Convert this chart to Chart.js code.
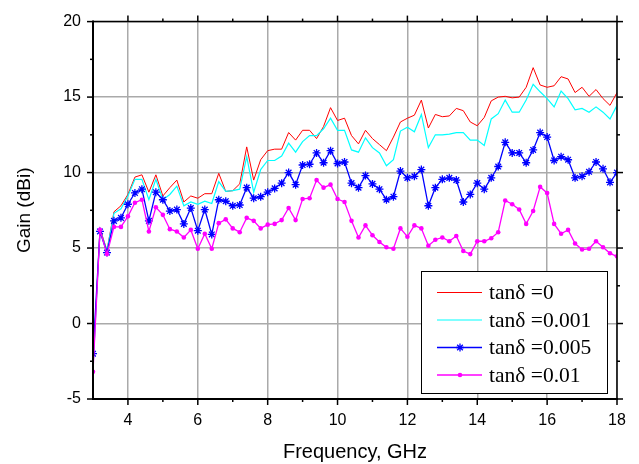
<!DOCTYPE html>
<html>
<head>
<meta charset="utf-8">
<script src="https://cdn.jsdelivr.net/npm/chart.js@4.4.0/dist/chart.umd.min.js"></script>
<style>
  html, body { margin: 0; padding: 0; background: #fff; }
  #wrap { width: 639px; height: 464px; }
</style>
</head>
<body>
<div id="wrap"><canvas id="gainChart" width="639" height="464"></canvas></div>
<script>
// Frequency samples (GHz)
const freqs = [3.0, 3.2, 3.4, 3.6, 3.8, 4.0, 4.2, 4.4, 4.6, 4.8,
    5.0, 5.2, 5.4, 5.6, 5.8, 6.0, 6.2, 6.4, 6.6, 6.8,
    7.0, 7.2, 7.4, 7.6, 7.8, 8.0, 8.2, 8.4, 8.6, 8.8,
    9.0, 9.2, 9.4, 9.6, 9.8, 10.0, 10.2, 10.4, 10.6, 10.8,
    11.0, 11.2, 11.4, 11.6, 11.8, 12.0, 12.2, 12.4, 12.6, 12.8,
    13.0, 13.2, 13.4, 13.6, 13.8, 14.0, 14.2, 14.4, 14.6, 14.8,
    15.0, 15.2, 15.4, 15.6, 15.8, 16.0, 16.2, 16.4, 16.6, 16.8,
    17.0, 17.2, 17.4, 17.6, 17.8, 18.0];

// Gain (dBi) for each loss tangent
const gainTan0 = [-3.0, 6.3, 4.85, 7.4, 7.8, 8.55, 9.7, 9.85, 8.7, 9.85,
    8.45, 9.0, 9.5, 8.05, 8.45, 8.3, 8.6, 8.6, 9.95, 8.75,
    8.8, 9.25, 11.7, 9.5, 10.85, 11.45, 11.55, 11.55, 12.65, 12.15,
    12.8, 12.8, 12.25, 13.05, 14.3, 13.45, 13.6, 12.45, 11.9, 12.8,
    12.25, 11.85, 11.45, 12.35, 13.35, 13.6, 13.8, 14.8, 12.95, 13.85,
    13.7, 13.75, 14.25, 14.1, 13.35, 13.1, 13.65, 14.75, 15.0, 15.05,
    14.95, 15.0, 15.65, 16.95, 15.8, 15.65, 15.75, 16.35, 16.2, 15.3,
    15.65, 15.05, 15.5, 14.9, 14.45, 15.3];

const gainTan001 = [-3.0, 6.2, 4.8, 7.3, 7.6, 8.45, 9.55, 9.55, 8.2, 9.55,
    8.2, 8.55, 9.1, 7.8, 8.05, 7.9, 8.1, 7.95, 9.4, 8.75,
    8.8, 8.9, 11.05, 8.7, 10.2, 10.8, 10.8, 11.1, 11.95, 11.35,
    12.05, 12.45, 12.45, 12.9, 13.6, 12.8, 12.8, 11.5, 11.35, 12.3,
    11.65, 11.3, 10.45, 10.85, 12.75, 13.0, 12.7, 13.85, 11.65, 12.5,
    12.5, 12.55, 12.65, 12.65, 12.15, 12.15, 11.8, 13.55, 13.9, 14.8,
    14.0, 14.0, 14.8, 15.85, 15.35, 14.9, 14.35, 15.4, 14.9, 14.15,
    14.25, 14.0, 14.35, 14.0, 13.55, 14.45];

const gainTan005 = [-2.0, 6.1, 4.7, 6.8, 7.0, 7.9, 8.65, 8.9, 6.8, 8.7,
    8.2, 7.45, 7.55, 6.6, 7.65, 6.15, 7.55, 5.9, 8.2, 8.1,
    7.8, 7.85, 9.0, 8.3, 8.4, 8.7, 8.95, 9.3, 10.0, 9.2,
    10.5, 10.55, 11.3, 10.65, 11.45, 10.6, 10.7, 9.3, 9.0, 9.8,
    9.25, 8.9, 8.2, 8.4, 10.1, 9.65, 9.75, 10.2, 7.8, 9.0,
    9.55, 9.65, 9.5, 8.05, 8.55, 9.3, 8.9, 9.65, 10.4, 12.0,
    11.3, 11.3, 10.65, 11.5, 12.65, 12.35, 10.8, 11.05, 10.85, 9.65,
    9.75, 10.05, 10.7, 10.25, 9.35, 10.0];

const gainTan01 = [-3.2, 6.2, 4.6, 6.4, 6.4, 7.1, 8.0, 8.2, 6.1, 7.7,
    7.2, 6.25, 6.1, 5.7, 6.2, 4.95, 5.95, 4.95, 6.65, 6.9,
    6.3, 6.05, 7.0, 6.8, 6.3, 6.55, 6.6, 6.85, 7.65, 6.85,
    8.25, 8.3, 9.5, 9.0, 9.2, 8.25, 8.05, 6.8, 5.7, 6.5,
    5.85, 5.4, 5.05, 4.95, 6.3, 5.75, 6.5, 6.3, 5.15, 5.55,
    5.7, 5.45, 5.8, 4.8, 4.6, 5.45, 5.45, 5.65, 6.05, 8.15,
    7.9, 7.55, 6.6, 7.45, 9.05, 8.65, 6.6, 5.95, 6.2, 5.3,
    4.9, 4.95, 5.45, 5.05, 4.65, 4.45];

const seriesLabels = ['tanδ =0', 'tanδ =0.001', 'tanδ =0.005', 'tanδ =0.01'];
const xTicks = [4, 6, 8, 10, 12, 14, 16, 18];
const yTicks = [-5, 0, 5, 10, 15, 20];
const xMinorTicks = [5, 7, 9, 11, 13, 15, 17];
const yMinorTicks = [-2.5, 2.5, 7.5, 12.5, 17.5];

const sansFont = 'Arial, "Liberation Sans", sans-serif';
const serifFont = '"Times New Roman", "Liberation Serif", serif';

const toPoints = arr => freqs.map((f, i) => ({ x: f, y: arr[i] }));

const datasets = [
    {
        label: seriesLabels[0],
        data: toPoints(gainTan0),
        borderColor: '#ff0000',
        borderWidth: 1,
        pointRadius: 0,
        order: 4
    },
    {
        label: seriesLabels[1],
        data: toPoints(gainTan001),
        borderColor: '#00ffff',
        borderWidth: 1.2,
        pointRadius: 0,
        order: 3
    },
    {
        label: seriesLabels[2],
        data: toPoints(gainTan005),
        borderColor: '#0000ff',
        borderWidth: 1.3,
        pointStyle: 'star',
        pointRadius: 4,
        pointBorderColor: '#0000ff',
        pointBorderWidth: 1.3,
        order: 2
    },
    {
        label: seriesLabels[3],
        data: toPoints(gainTan01),
        borderColor: '#ff00ff',
        borderWidth: 1.3,
        pointStyle: 'circle',
        pointRadius: 2.3,
        pointBackgroundColor: '#ff00ff',
        pointBorderColor: '#ff00ff',
        pointBorderWidth: 0,
        order: 1
    }
];

// Frame, outward tick marks and the boxed legend
const frameAndLegend = {
    id: 'frameAndLegend',
    afterDraw(chart) {
        const { ctx, chartArea: a, scales: { x, y } } = chart;
        ctx.save();
        ctx.strokeStyle = '#000';
        ctx.lineWidth = 1.5;

        const tick = (x1, y1, x2, y2) => {
            ctx.beginPath();
            ctx.moveTo(x1, y1);
            ctx.lineTo(x2, y2);
            ctx.stroke();
        };

        xTicks.forEach(v => {
            const px = x.getPixelForValue(v);
            tick(px, a.bottom, px, a.bottom + 6);
            tick(px, a.top, px, a.top - 6);
        });
        xMinorTicks.forEach(v => {
            const px = x.getPixelForValue(v);
            tick(px, a.bottom, px, a.bottom + 3);
            tick(px, a.top, px, a.top - 3);
        });
        yTicks.forEach(v => {
            const py = y.getPixelForValue(v);
            tick(a.left, py, a.left - 6, py);
            tick(a.right, py, a.right + 6, py);
        });
        yMinorTicks.forEach(v => {
            const py = y.getPixelForValue(v);
            tick(a.left, py, a.left - 3, py);
            tick(a.right, py, a.right + 3, py);
        });

        // box
        ctx.lineWidth = 2;
        tick(a.left, a.top - 1, a.left, a.bottom + 1);
        tick(a.left - 1, a.bottom, a.right + 1, a.bottom);
        ctx.lineWidth = 1.5;
        tick(a.left, a.top, a.right, a.top);
        tick(a.right, a.top, a.right, a.bottom);

        // legend
        const box = { left: 421, top: 271, right: 607, bottom: 393 };
        ctx.fillStyle = '#fff';
        ctx.fillRect(box.left, box.top, box.right - box.left, box.bottom - box.top);
        ctx.lineWidth = 1;
        ctx.strokeRect(box.left + 0.5, box.top + 0.5, box.right - box.left, box.bottom - box.top);

        const rowY = [292.5, 320, 347.5, 375];
        ctx.font = '21.5px ' + serifFont;
        ctx.textBaseline = 'middle';
        ctx.textAlign = 'left';
        chart.data.datasets.forEach((ds, i) => {
            const ry = rowY[i];
            ctx.strokeStyle = ds.borderColor;
            ctx.lineWidth = ds.borderWidth;
            tick(437, ry, 482, ry);
            if (ds.pointRadius > 0) {
                ctx.fillStyle = ds.pointBackgroundColor || ds.borderColor;
                ctx.strokeStyle = ds.pointBorderColor;
                Chart.helpers.drawPoint(ctx, {
                    pointStyle: ds.pointStyle,
                    radius: ds.pointRadius,
                    rotation: 0,
                    borderWidth: ds.pointBorderWidth
                }, 460, ry);
            }
            ctx.fillStyle = '#000';
            ctx.fillText(ds.label, 489, ry + 1);
        });
        ctx.restore();
    }
};

const ctx = document.getElementById('gainChart').getContext('2d');

const chart = new Chart(ctx, {
    type: 'line',
    data: { datasets: datasets },
    options: {
        responsive: false,
        animation: false,
        devicePixelRatio: 1,
        layout: {
            padding: { top: 16, right: 22, left: 0, bottom: 0 }
        },
        plugins: {
            legend: { display: false },
            tooltip: { enabled: false }
        },
        scales: {
            x: {
                type: 'linear',
                min: 3,
                max: 18,
                afterBuildTicks: scale => {
                    scale.ticks = xTicks.map(v => ({ value: v }));
                },
                afterFit: scale => {
                    scale.height = 65;
                },
                border: { display: false },
                grid: {
                    color: '#aaaaaa',
                    lineWidth: 1.5,
                    drawTicks: false
                },
                ticks: {
                    color: '#000',
                    padding: 12,
                    maxRotation: 0,
                    autoSkip: false,
                    font: { family: sansFont, size: 16 }
                },
                title: {
                    display: true,
                    text: 'Frequency, GHz',
                    color: '#000',
                    font: { family: sansFont, size: 20 },
                    padding: { top: 0, bottom: 0 }
                }
            },
            y: {
                type: 'linear',
                min: -5,
                max: 20,
                afterBuildTicks: scale => {
                    scale.ticks = yTicks.map(v => ({ value: v }));
                },
                afterFit: scale => {
                    scale.width = 93;
                },
                border: { display: false },
                grid: {
                    color: '#aaaaaa',
                    lineWidth: 1.5,
                    drawTicks: false
                },
                ticks: {
                    color: '#000',
                    padding: 12,
                    font: { family: sansFont, size: 16 }
                },
                title: {
                    display: true,
                    text: 'Gain (dBi)',
                    color: '#000',
                    font: { family: sansFont, size: 19 },
                    padding: { top: 13, bottom: 0 }
                }
            }
        }
    },
    plugins: [frameAndLegend]
});
</script>
</body>
</html>
